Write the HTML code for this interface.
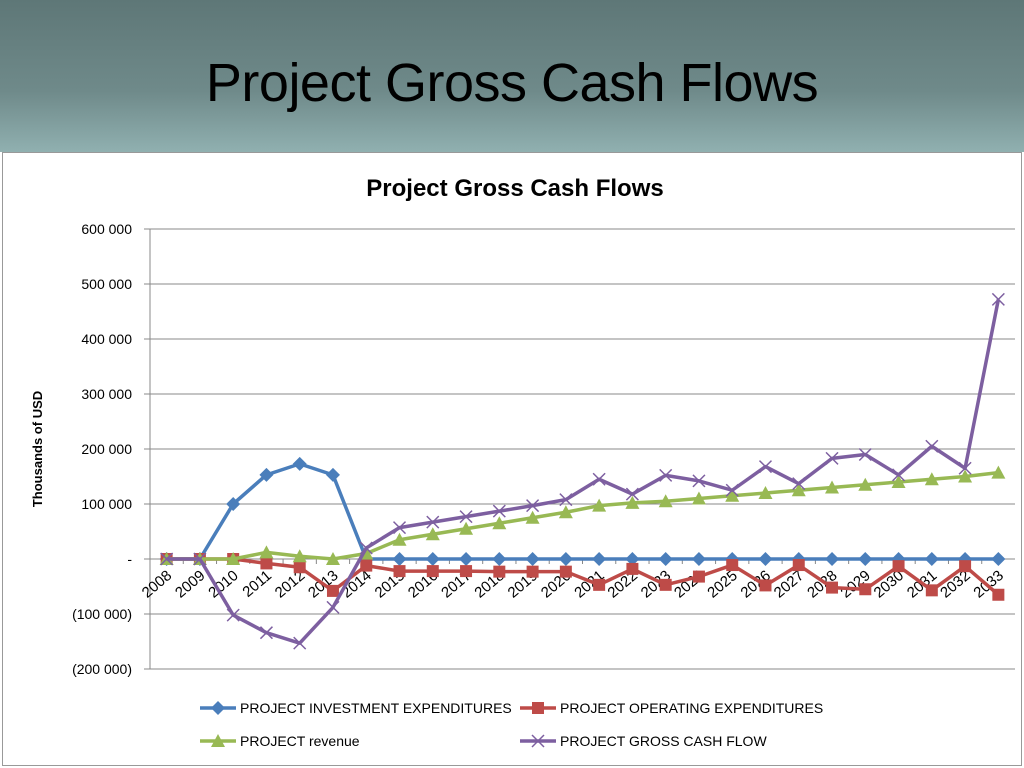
<!DOCTYPE html>
<html><head><meta charset="utf-8"><style>
body{margin:0;width:1024px;height:768px;overflow:hidden;font-family:"Liberation Sans",sans-serif;}
#hdr{position:absolute;left:0;top:0;width:1024px;height:152px;background:linear-gradient(#5e7777,#6f8a8a 60%,#90b0b0);}
#hdr h1{margin:0;position:absolute;left:0;width:1024px;top:52px;text-align:center;font-weight:normal;font-size:54px;color:#000;letter-spacing:-0.5px;}
#box{position:absolute;left:2px;top:152px;width:1018px;height:612px;background:#fff;border:1px solid #999;}
svg{position:absolute;left:0;top:0;}
</style></head><body>
<div id="hdr"><h1>Project Gross Cash Flows</h1></div>
<div id="box"></div>
<svg id="chart" width="1024" height="768"></svg>
<script>
const years=["2008","2009","2010","2011","2012","2013","2014","2015","2016","2017","2018","2019","2020","2021","2022","2023","2024","2025","2026","2027","2028","2029","2030","2031","2032","2033"];
const investment=[0,0,100,153,173,153,0,0,0,0,0,0,0,0,0,0,0,0,0,0,0,0,0,0,0,0];
const operating=[0,0,0,-8,-15,-58,-12,-22,-22,-22,-23,-23,-23,-47,-18,-47,-32,-11,-48,-11,-52,-55,-13,-57,-13,-65];
const revenue=[0,0,0,12,5,0,10,35,45,55,65,75,85,97,102,105,110,115,120,125,130,135,140,145,150,157];
const gross=[0,0,-102,-134,-153,-88,20,57,67,77,87,97,108,145,118,152,142,125,168,137,183,190,153,205,165,472];
const yTicks=[600,500,400,300,200,100,0,-100,-200];
const yLabels=["600 000","500 000","400 000","300 000","200 000","100 000","-","(100 000)","(200 000)"];
const NS="http://www.w3.org/2000/svg";
const svg=document.getElementById('chart');
const X0=150,X1=1015,Y0=229,Y1=669;
function y(v){return Y0+(600-v)/800*(Y1-Y0);}
function x(i){return X0+(i+0.5)*(X1-X0)/years.length;}
function mk(t,a,p){const e=document.createElementNS(NS,t);for(const k in a)e.setAttribute(k,a[k]);(p||svg).appendChild(e);return e;}
let t=mk('text',{x:515,y:196,'text-anchor':'middle','font-size':24,'font-weight':'bold'});t.textContent='Project Gross Cash Flows';


t=mk('text',{x:0,y:0,transform:'translate(42,449) rotate(-90)','text-anchor':'middle','font-size':13,'font-weight':'bold'});t.textContent='Thousands  of USD';


yTicks.forEach((v,i)=>{
 const g=mk('line',{x1:X0-6,x2:X1,y1:y(v),y2:y(v),stroke:'#888','stroke-width':1});
 
 
 const l=mk('text',{x:X0-18,y:y(v)+5,'text-anchor':'end','font-size':14});l.textContent=yLabels[i];
 
 
});
mk('line',{x1:X0,x2:X0,y1:Y0,y2:Y1,stroke:'#888'});
years.forEach((yr,i)=>{
 mk('line',{x1:X0+i*(X1-X0)/years.length,x2:X0+i*(X1-X0)/years.length,y1:y(0),y2:y(0)+5,stroke:'#888'});
 const l=mk('text',{x:0,y:0,transform:`translate(${x(i)+6},${y(0)+18}) rotate(-40)`,'text-anchor':'end','font-size':15});l.textContent=yr;
 
 
});
function marker(type,cx,cy,c,p){
 if(type==='d')return mk('polygon',{points:`${cx},${cy-7} ${cx+7},${cy} ${cx},${cy+7} ${cx-7},${cy}`,fill:c},p);
 if(type==='s')return mk('rect',{x:cx-6,y:cy-6,width:12,height:12,fill:c},p);
 if(type==='t')return mk('polygon',{points:`${cx},${cy-7} ${cx+7},${cy+6} ${cx-7},${cy+6}`,fill:c},p);
 const g=mk('path',{d:`M${cx-6},${cy-6}L${cx+6},${cy+6}M${cx-6},${cy+6}L${cx+6},${cy-6}`,stroke:c,'stroke-width':1.5,fill:'none'},p);return g;
}
const series=[[investment,'#4a7ebb','d','investment-series'],[operating,'#be4b48','s','operating-series'],[revenue,'#98b954','t','revenue-series'],[gross,'#7d5fa0','x','gross-cash-flow-series']];
series.forEach(([d,c,m,n])=>{
 const g=mk('g',{});
 
 
 mk('polyline',{points:d.map((v,i)=>x(i)+','+y(v)).join(' '),fill:'none',stroke:c,'stroke-width':3.5,'stroke-linejoin':'round'},g);
 d.forEach((v,i)=>{const e=marker(m,x(i),y(v),c,g);
  
  });
});
const leg=[['PROJECT INVESTMENT  EXPENDITURES',200,708,0],['PROJECT OPERATING  EXPENDITURES',520,708,1],['PROJECT revenue',200,741,2],['PROJECT GROSS CASH FLOW',520,741,3]];
leg.forEach(([txt,lx,ly,k])=>{
 const g=mk('g',{});
 
 
 const c=series[k][1];
 mk('line',{x1:lx,x2:lx+36,y1:ly,y2:ly,stroke:c,'stroke-width':3.5},g);
 marker(series[k][2],lx+18,ly,c,g);
 const l=mk('text',{x:lx+40,y:ly+5,'font-size':14},g);l.textContent=txt;
});
</script>
</body></html>
